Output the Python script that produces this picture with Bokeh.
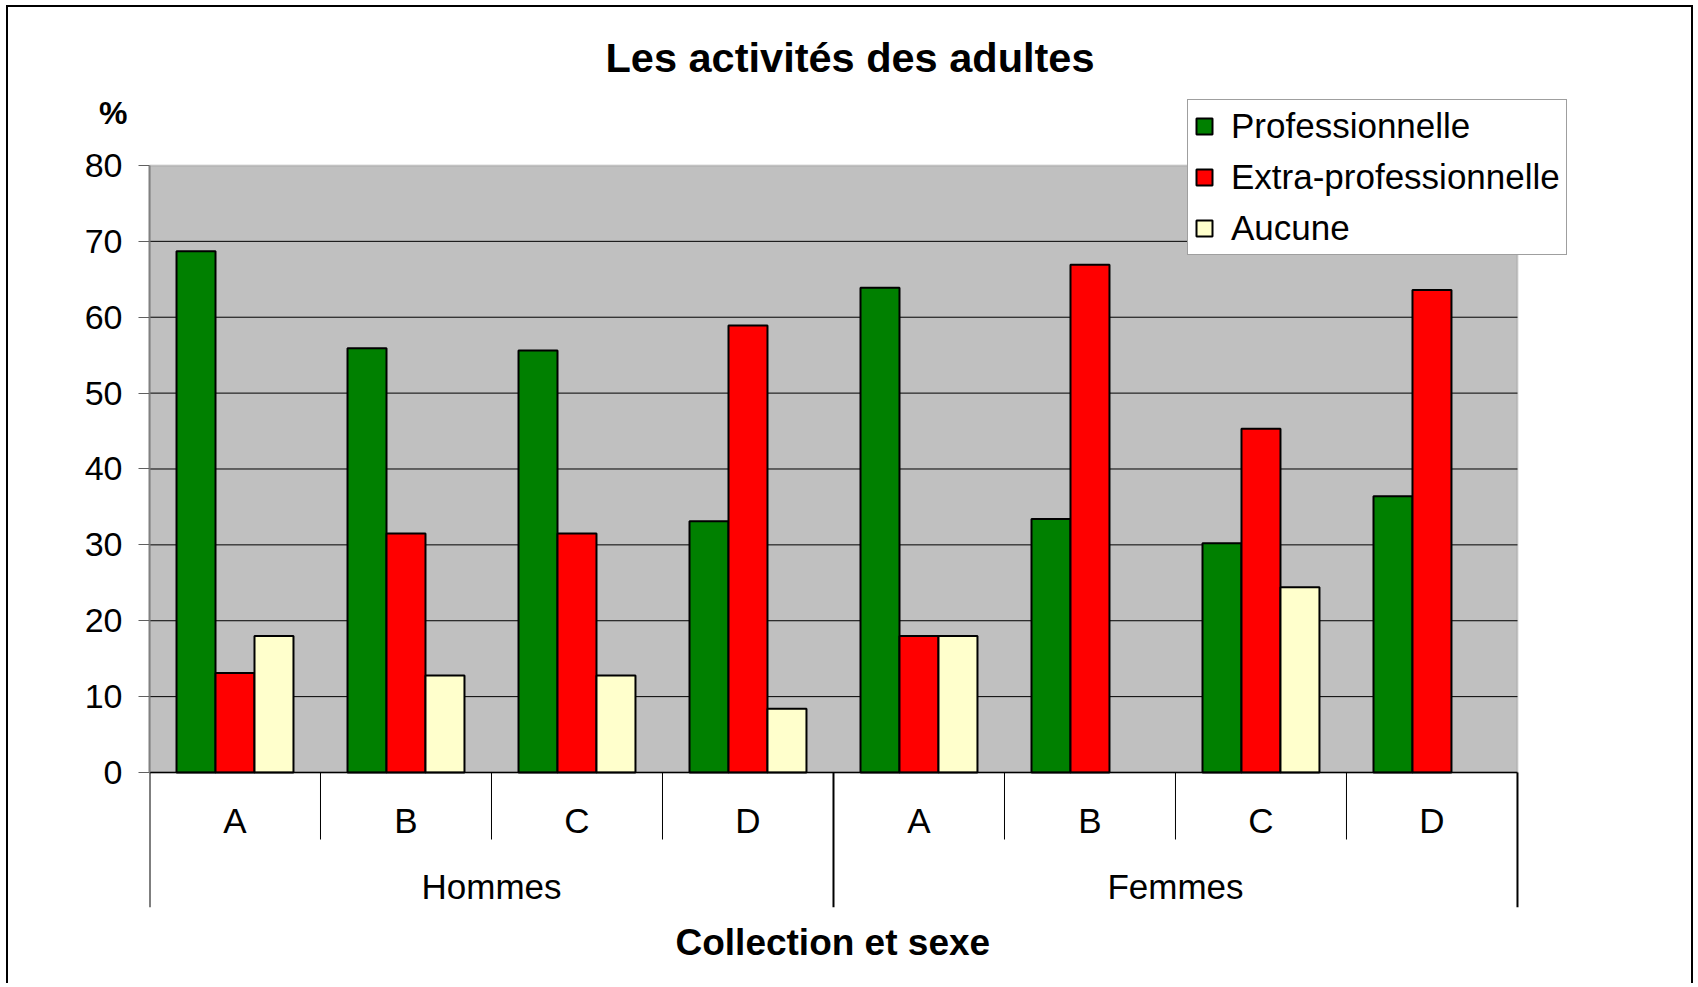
from bokeh.plotting import figure
from bokeh.models import (Range1d, FixedTicker, BoxAnnotation, Legend, LegendItem,
                          LinearAxis, PrintfTickFormatter, Title, ColumnDataSource)
from bokeh.core.properties import value
from bokeh.embed import file_html
from bokeh.resources import INLINE

# ---------------- data ----------------
chart_title = "Les activités des adultes"
y_unit = "%"
x_title = "Collection et sexe"
groups = ["Hommes", "Femmes"]
collections = ["A", "B", "C", "D"]
series_names = ["Professionnelle", "Extra-professionnelle", "Aucune"]
series_colors = ["#008000", "#FF0000", "#FFFFCC"]
professionnelle = [68.7, 55.9, 55.6, 33.1, 63.9, 33.4, 30.2, 36.4]
extra_professionnelle = [13.1, 31.5, 31.5, 58.9, 18.0, 66.9, 45.3, 63.6]
aucune = [18.0, 12.8, 12.8, 8.4, 18.0, None, 24.4, None]
y_ticks = [0, 10, 20, 30, 40, 50, 60, 70, 80]

# ---------------- layout constants ----------------
FONT = "Liberation Sans"
n_cat = len(groups) * len(collections)
n_col = len(collections)
Y_TOP = y_ticks[-1]
Y_MIN = -17.79
Y_MAX = 89.88
X_MAX = 8.544
BAR_W = 0.228
Y_PCT = 86.98

W, H = 1687, 978
p = figure(width=W, height=H, output_backend="svg", toolbar_location=None,
           x_range=Range1d(0, X_MAX), y_range=Range1d(Y_MIN, Y_MAX),
           min_border_left=141, min_border_right=85, min_border_top=83,
           min_border_bottom=78, background_fill_color="white",
           border_fill_color="white", outline_line_color=None, title=None)
p.styles = {"border-left": "2px solid black", "border-top": "2px solid black",
            "border-right": "2px solid black", "margin-left": "6px", "margin-top": "5px"}

# title (above) and x title (below)
t = Title(text=chart_title, align="left", offset=456, standoff=20,
          text_font=FONT, text_font_size="41.5px", text_font_style="bold",
          text_color="black")
p.add_layout(t, "above")
p.xaxis.visible = False
tb = Title(text=x_title, align="left", offset=526, standoff=28, vertical_align="top",
           text_font=FONT, text_font_size="37px", text_font_style="bold",
           text_color="black")
p.add_layout(tb, "below")

# grey plot area
p.add_layout(BoxAnnotation(left=0, right=n_cat, bottom=0, top=Y_TOP,
                           fill_color="#C0C0C0", fill_alpha=1.0,
                           line_color="#808080", line_width=2, level="underlay"))

# grid lines limited to the plot area
p.xgrid.visible = False
p.ygrid.visible = False
grid_y = y_ticks[1:-1]
p.segment(x0=[0] * len(grid_y), y0=grid_y, x1=[n_cat] * len(grid_y), y1=grid_y,
          line_color="black", line_width=1)

# y axis
ya = p.yaxis[0]
ya.ticker = FixedTicker(ticks=y_ticks)
ya.bounds = (0, Y_TOP)
ya.axis_line_color = "#808080"
ya.axis_line_width = 2
ya.major_tick_line_color = "#606060"
ya.major_tick_out = 11
ya.major_tick_in = 0
ya.minor_tick_line_color = None
ya.major_label_text_font = FONT
ya.major_label_text_font_size = "34px"
ya.major_label_text_color = "black"
ya.major_label_standoff = 16

# "%" unit label as an extra axis label
ua = LinearAxis(ticker=FixedTicker(ticks=[Y_PCT]), formatter=PrintfTickFormatter(format="%%"),
                axis_line_color=None, major_tick_line_color=None, minor_tick_line_color=None,
                major_tick_out=0, major_tick_in=0, major_label_standoff=-46,
                major_label_text_font=FONT, major_label_text_font_size="32px",
                major_label_text_font_style="bold", major_label_text_color="black")
p.add_layout(ua, "left")

# bars
all_series = [professionnelle, extra_professionnelle, aucune]
renderers = []
for k, (vals, col) in enumerate(zip(all_series, series_colors)):
    xs, tops = [], []
    for i, v in enumerate(vals):
        if v is None:
            continue
        xs.append(i + 0.5 + (k - 1) * BAR_W)
        tops.append(v)
    src = ColumnDataSource(dict(x=xs, top=tops))
    r = p.vbar(x="x", top="top", bottom=0, width=BAR_W, source=src,
               fill_color=col, line_color="black", line_width=2)
    renderers.append(r)

# baseline
p.segment(x0=[0], y0=[0], x1=[n_cat], y1=[0], line_color="black", line_width=1.5)

# category axis separators
inner_x = [i for i in range(1, n_cat) if i % n_col != 0]
outer_x = [i for i in range(0, n_cat + 1) if i % n_col == 0]
p.segment(x0=inner_x, y0=[0] * len(inner_x), x1=inner_x, y1=[-8.83] * len(inner_x),
          line_color="black", line_width=1)
p.segment(x0=outer_x, y0=[0] * len(outer_x), x1=outer_x, y1=[Y_MIN] * len(outer_x),
          line_color="black", line_width=2)

# category labels
cat_x = [i + 0.5 for i in range(n_cat)]
cat_text = collections * len(groups)
p.text(x=cat_x, y=[-6.33] * n_cat, text=cat_text, text_font=value(FONT),
       text_font_size="35px", text_align="center", text_baseline="middle",
       text_color="black")
grp_x = [g * n_col + n_col / 2 for g in range(len(groups))]
p.text(x=grp_x, y=[-15.02] * len(groups), text=groups, text_font=value(FONT),
       text_font_size="35px", text_align="center", text_baseline="middle",
       text_color="black")

# legend
legend = Legend(items=[LegendItem(label=n, renderers=[r]) for n, r in zip(series_names, renderers)],
                location=(1038, 652), orientation="vertical",
                label_text_font=FONT, label_text_font_size="35px", label_text_color="black",
                glyph_width=20, glyph_height=20, label_height=39, label_standoff=17,
                spacing=11, padding=6, margin=0,
                border_line_color="#404040", border_line_width=1,
                background_fill_color="white", background_fill_alpha=1.0)
p.add_layout(legend, "center")

open("out.html", "w").write(file_html(p, INLINE))
